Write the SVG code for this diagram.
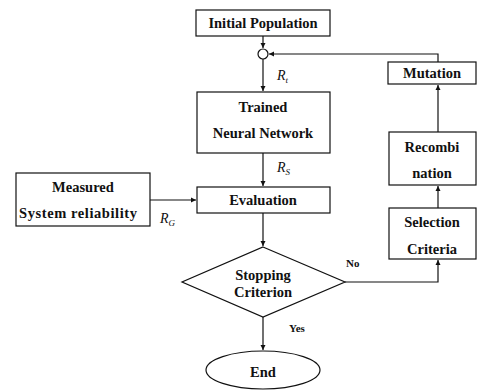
<svg xmlns="http://www.w3.org/2000/svg" width="478" height="390" viewBox="0 0 478 390">
<style>
.box{fill:#fff;stroke:#111;stroke-width:1.2}
.t{font-family:"Liberation Serif","Times New Roman",serif;font-weight:bold;font-size:14.5px;fill:#111;text-anchor:middle}
.s{font-family:"Liberation Serif","Times New Roman",serif;font-weight:bold;font-size:11px;fill:#111}
.r{font-family:"Liberation Serif","Times New Roman",serif;font-style:italic;font-size:14px;fill:#111}
.sub{font-size:9px}
.c{fill:none;stroke:#111;stroke-width:1.2}
</style>
<defs>
<marker id="a" markerWidth="6" markerHeight="6" refX="5" refY="3" orient="auto" markerUnits="userSpaceOnUse">
<path d="M0,0.5 L5,3 L0,5.5 Z" fill="#111"/>
</marker>
</defs>
<g id="init"><rect class="box" x="196" y="10" width="134" height="26"/><text class="t" x="263" y="28">Initial Population</text></g>
<g id="junction"><circle cx="263" cy="54" r="5" fill="#fff" stroke="#111" stroke-width="1.2"/></g>
<g id="trained"><rect class="box" x="197" y="92" width="133" height="61"/><text class="t" x="263" y="112">Trained</text><text class="t" x="263" y="138">Neural Network</text></g>
<g id="measured"><rect class="box" x="16" y="173" width="134" height="53"/><text class="t" x="83" y="192">Measured</text><text class="t" x="78" y="218" textLength="118" lengthAdjust="spacing">System reliability</text></g>
<g id="evaluation"><rect class="box" x="197" y="187" width="133" height="26"/><text class="t" x="263" y="205">Evaluation</text></g>
<g id="stopping"><polygon class="box" points="263,247 345,282 263,317 182,282"/><text class="t" x="263" y="280">Stopping</text><text class="t" x="263" y="297">Criterion</text></g>
<g id="end"><ellipse class="box" cx="263" cy="370" rx="57" ry="19"/><text class="t" x="263" y="377">End</text></g>
<g id="selection"><rect class="box" x="389" y="208" width="87" height="51"/><text class="t" x="432" y="227">Selection</text><text class="t" x="432" y="254">Criteria</text></g>
<g id="recombination"><rect class="box" x="389" y="132" width="87" height="53"/><text class="t" x="432" y="152">Recombi</text><text class="t" x="432" y="178">nation</text></g>
<g id="mutation"><rect class="box" x="388" y="62" width="88" height="22"/><text class="t" x="432" y="78">Mutation</text></g>
<g id="connectors">
<line class="c" x1="263" y1="36" x2="263" y2="48" marker-end="url(#a)"/>
<line class="c" x1="263" y1="59" x2="263" y2="91" marker-end="url(#a)"/>
<line class="c" x1="263" y1="153" x2="263" y2="186" marker-end="url(#a)"/>
<line class="c" x1="150" y1="200" x2="196" y2="200" marker-end="url(#a)"/>
<line class="c" x1="263" y1="213" x2="263" y2="246" marker-end="url(#a)"/>
<line class="c" x1="263" y1="317" x2="263" y2="350" marker-end="url(#a)"/>
<polyline class="c" points="345,282 438,282 438,260" marker-end="url(#a)"/>
<line class="c" x1="438" y1="208" x2="438" y2="186" marker-end="url(#a)"/>
<line class="c" x1="438" y1="132" x2="438" y2="85" marker-end="url(#a)"/>
<polyline class="c" points="438,62 438,54 269,54" marker-end="url(#a)"/>
</g>
<text class="r" x="277" y="80">R<tspan class="sub" dy="3">t</tspan></text>
<text class="r" x="277" y="172">R<tspan class="sub" dy="3">S</tspan></text>
<text class="r" x="160" y="223">R<tspan class="sub" dy="3">G</tspan></text>
<text class="s" x="346" y="267">No</text>
<text class="s" x="289" y="332">Yes</text>
</svg>
